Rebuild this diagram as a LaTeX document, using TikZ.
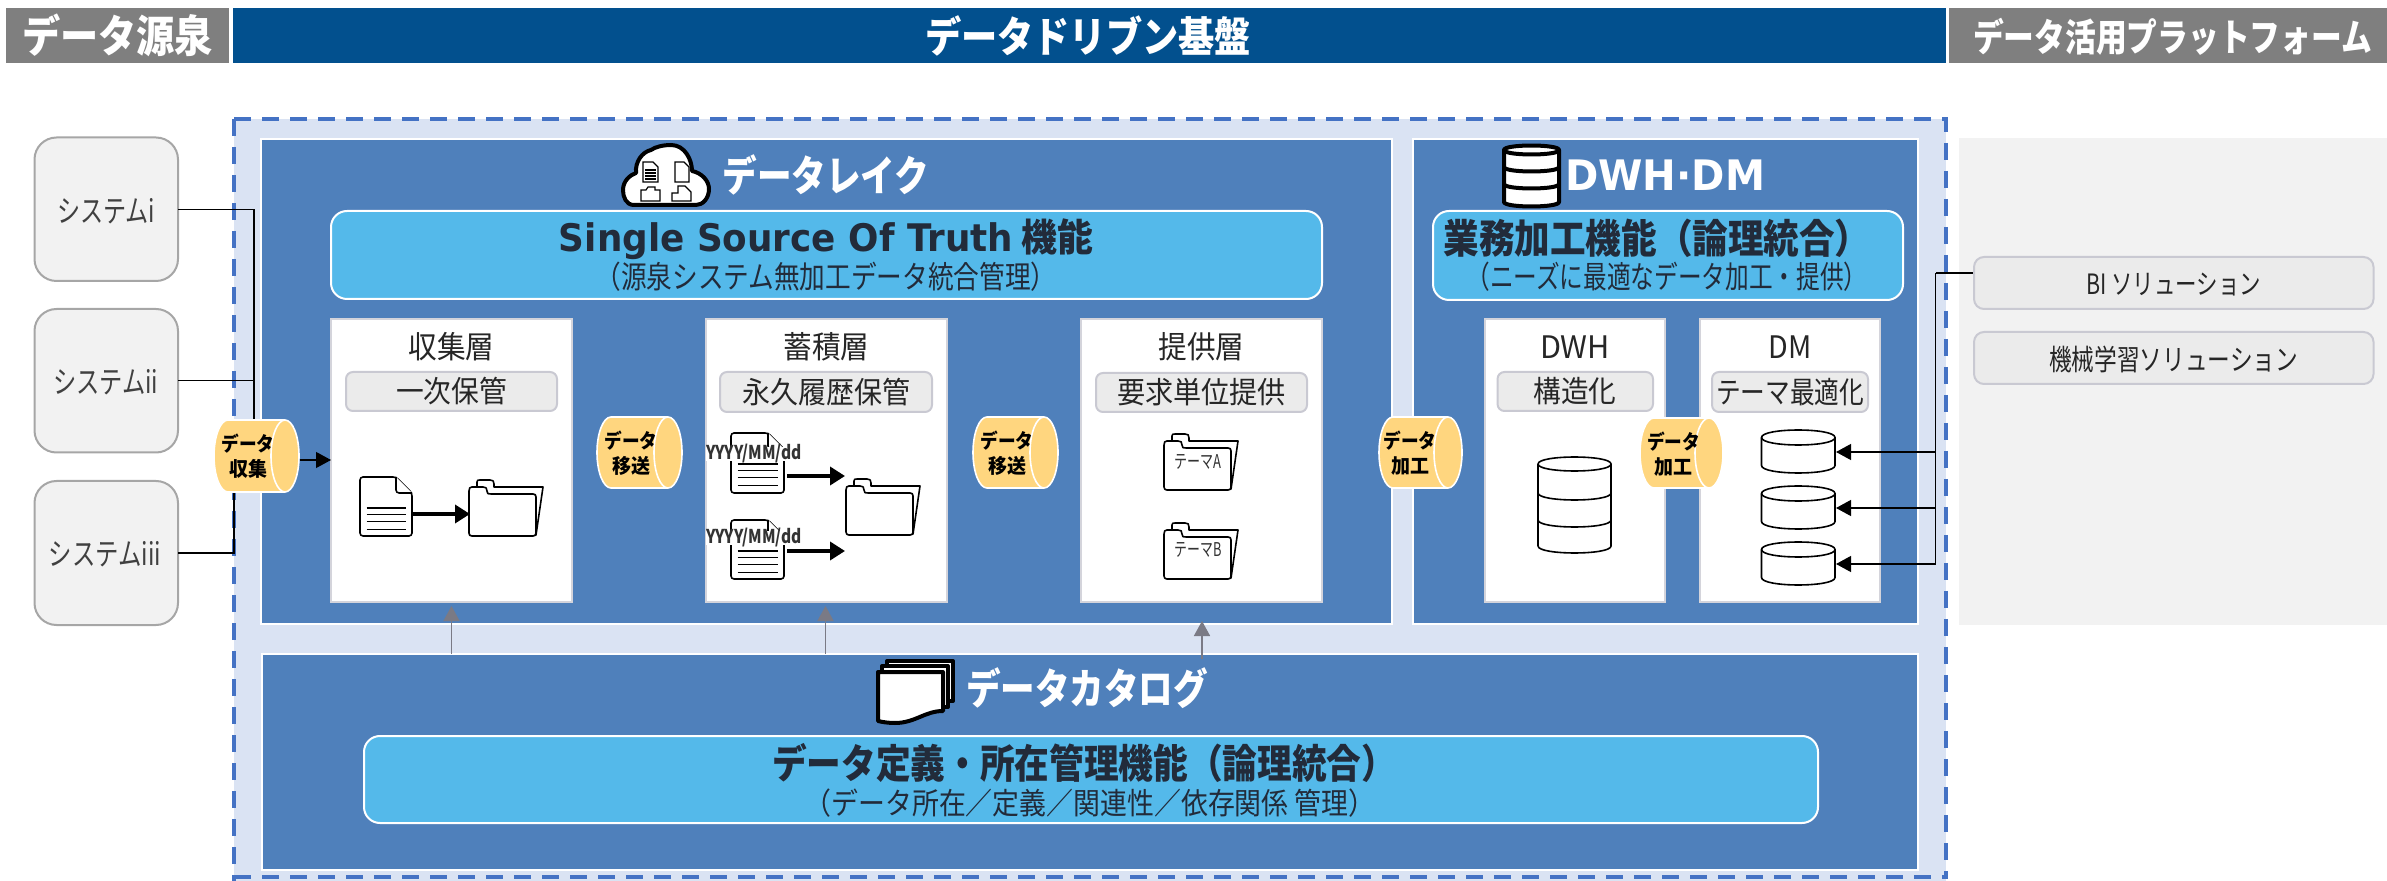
\documentclass[tikz,border=0pt]{standalone}
\usepackage{graphicx}
\usepackage{fontspec}
\setmainfont{Noto Sans CJK JP}
\newfontfamily\latf{DejaVu Sans}
\usetikzlibrary{arrows.meta}
\definecolor{hgray}{HTML}{7F7F7F}
\definecolor{hblue}{HTML}{02508E}
\definecolor{lightbg}{HTML}{DAE3F3}
\definecolor{dashblue}{HTML}{4472C4}
\definecolor{midblue}{HTML}{4F80BB}
\definecolor{banner}{HTML}{54B9EA}
\definecolor{pillfill}{HTML}{EBEBEB}
\definecolor{pillline}{HTML}{C9C9D2}
\definecolor{sysfill}{HTML}{F2F2F2}
\definecolor{sysline}{HTML}{A6A6A6}
\definecolor{navy}{HTML}{222B3A}
\definecolor{cylfill}{HTML}{FFD67F}
\definecolor{arrowgray}{HTML}{7A7A85}
% 1 reference pixel = 0.5pt
\newcommand\bx[6]{% style, name, x0,y0,x1,y1
  \node[#1,minimum width={\fpeval{(#5-(#3))/2}pt},minimum height={\fpeval{(#6-(#4))/2}pt}] (#2) at ({(#3+#5)/2},{(#4+#6)/2}) {};}
\newcommand\lbl[7][black]{% colour, name, x, y, size px, width px, text
  \node[txt,text=#1] (#2) at (#3,#4) {\fontsize{\fpeval{#5/2}}{\fpeval{#5/2}}\selectfont\resizebox{\fpeval{#6/2}pt}{\height}{#7}};}
\newcommand\cyl[8]{% name x0 x1 y0 y1 textcx line1 line2
  \pgfmathsetmacro\ym{(#4+#5)/2}\pgfmathsetmacro\ry{(#5-#4)/2}
  \def\rx{14}\def\kx{7.7}\pgfmathsetmacro\ky{0.5523*\ry}
  \filldraw[cylstyle] ({#2+\rx},#4) -- ({#3-\rx},#4)
    .. controls ({#3-\rx+\kx},#4) and (#3,{\ym-\ky}) .. (#3,\ym)
    .. controls (#3,{\ym+\ky}) and ({#3-\rx+\kx},#5) .. ({#3-\rx},#5)
    -- ({#2+\rx},#5)
    .. controls ({#2+\rx-\kx},#5) and (#2,{\ym+\ky}) .. (#2,\ym)
    .. controls (#2,{\ym-\ky}) and ({#2+\rx-\kx},#4) .. cycle;
  \draw[cylstyle,fill=none] ({#3-\rx},#4)
    .. controls ({#3-\rx-\kx},#4) and ({#3-2*\rx},{\ym-\ky}) .. ({#3-2*\rx},\ym)
    .. controls ({#3-2*\rx},{\ym+\ky}) and ({#3-\rx-\kx},#5) .. ({#3-\rx},#5);
  \bx{anchorbox}{#1}{#2}{#4}{#3}{#5}
  \lbl{#1a}{#6}{\fpeval{#4+23.5}}{20}{53}{\textbf{#7}}
  \lbl{#1b}{#6}{\fpeval{#4+49}}{20}{38}{\textbf{#8}}}
\newcommand\dbshape[7]{% style x0 x1 ytop ybot ry seplist
  \pgfmathsetmacro\cc{1.33*#6}
  \filldraw[#1] (#2,#4) .. controls (#2,{#4-\cc}) and (#3,{#4-\cc}) .. (#3,#4)
    -- (#3,#5) .. controls (#3,{#5+\cc}) and (#2,{#5+\cc}) .. (#2,#5) -- cycle;
  \draw[#1,fill=none] (#2,#4) .. controls (#2,{#4+\cc}) and (#3,{#4+\cc}) .. (#3,#4);
  \foreach \s in {#7} {\draw[#1,fill=none] (#2,\s) .. controls (#2,{\s+\cc}) and (#3,{\s+\cc}) .. (#3,\s);}}
\newcommand\folder[2]{%
  \begin{scope}[shift={(#1,#2)}]
   \filldraw[icon] (9,8) -- (9,3) .. controls (9,1) and (10,1) .. (12,1) -- (22,1) .. controls (25,1) and (26,2) .. (26,5) -- (26,8) -- (75,8) -- (68,56) -- (9,56) -- cycle;
   \filldraw[icon] (1,12) .. controls (1,9) and (2,8) .. (4,8) -- (15,8) .. controls (18,8) and (19,9) .. (19,12) .. controls (19,15) and (20,15) .. (23,15) -- (65,15) .. controls (67,15) and (68,16) .. (68,18) -- (68,54) .. controls (68,56) and (67,57) .. (65,57) -- (4,57) .. controls (2,57) and (1,56) .. (1,54) -- cycle;
  \end{scope}}
\newcommand\docicon[4]{% x0 y0 x1 y1
  \pgfmathsetmacro\ex{#3-16}\pgfmathsetmacro\ey{#2+16}
  \filldraw[icon,rounded corners=1.5] (#1,#2) -- (\ex,#2) -- (#3,\ey) -- (#3,#4) -- (#1,#4) -- cycle;
  \draw[icon,rounded corners=1.5] (\ex,#2) -- (\ex,\ey) -- (#3,\ey);
  \foreach \d in {31,37.5,44.5,52.5} {\draw[icon] ({#1+6.5},{#2+\d}) -- ({#3-6.5},{#2+\d});}}
\tikzset{x=0.5pt,y=-0.5pt,
  base/.style={inner sep=0pt,outer sep=0pt},
  txt/.style={base,align=center},
  anchorbox/.style={base,rectangle},
  head/.style={base,rectangle,fill=#1},
  dashedframe/.style={base,rectangle,fill=lightbg},
  panel/.style={base,rectangle,fill=midblue,draw=white,line width=1pt},
  bannerbox/.style={base,rectangle,rounded corners=8pt,fill=banner,draw=white,line width=1pt},
  layerbox/.style={base,rectangle,fill=white,draw=pillline!80!white,line width=.75pt},
  pill/.style={base,rectangle,rounded corners=3.5pt,fill=pillfill,draw=pillline,line width=1pt},
  sysbox/.style={base,rectangle,rounded corners=11pt,fill=sysfill,draw=sysline,line width=1pt},
  grayarea/.style={base,rectangle,fill=sysfill},
  cylstyle/.style={fill=cylfill,draw=white,line width=.8pt},
  icon/.style={draw=black,fill=white,line width=.8pt,line join=round},
  thickicon/.style={draw=black,fill=white,line width=2pt,line join=round},
  dbstyle/.style={draw=black,fill=white,line width=.8pt},
  conn/.style={draw=black,line width=.6pt},
  connarrow/.style={conn,-{Triangle[length=7.5pt,width=8pt]}},
  iconarrow/.style={draw=black,line width=1.8pt,-{Triangle[length=7.5pt,width=9pt]}},
  catarrow/.style={draw=arrowgray,line width=.8pt,-{Triangle[length=7.5pt,width=8pt]}},
  dashline/.style={draw=dashblue,line width=1.75pt,dash pattern=on 8.5pt off 5.5pt},
}
\begin{document}
\begin{tikzpicture}
\useasboundingbox (0,0) rectangle (2387,881);
% headers
\bx{head=hgray}{hsrc}{6}{8}{229}{63}
\bx{head=hblue}{hbase}{233}{8}{1946}{63}
\bx{head=hgray}{hplat}{1949}{8}{2387}{63}
\lbl[white]{thsrc}{117.5}{35}{44}{191}{\textbf{データ源泉}}
\lbl[white]{thbase}{1088}{36}{42}{326}{\textbf{データドリブン基盤}}
\lbl[white]{thplat}{2172.5}{37}{38}{399}{\textbf{データ活用プラットフォーム}}
% frames
\bx{dashedframe}{outer}{234}{119}{1946}{881}
\bx{grayarea}{right}{1959}{138}{2387}{625}
\draw[dashline] (outer.north west) -- (outer.north east) -- ([yshift=1pt]outer.south east);
\draw[dashline] (outer.north west) -- (outer.south west);
\draw[dashline] ([yshift=2pt]outer.south west) -- ([yshift=2pt]outer.south east);
\bx{panel}{lake}{261}{139}{1392}{624}
\bx{panel}{dwh}{1413}{139}{1918}{624}
\bx{panel}{catalog}{262}{654}{1918}{870}
% source systems
\bx{sysbox}{sysA}{34.5}{137.5}{178}{281}
\bx{sysbox}{sysB}{34.5}{309}{178}{452.5}
\bx{sysbox}{sysC}{34.5}{481}{178}{625}
\lbl[black!75]{tsysA}{106}{211}{31}{98}{システムi}
\lbl[black!75]{tsysB}{105.5}{382}{31}{105}{システムii}
\lbl[black!75]{tsysC}{105}{554}{31}{112}{システムiii}
% banners
\bx{bannerbox}{ban1}{331}{211}{1322}{299}
\bx{bannerbox}{ban2}{1433}{211}{1903}{300}
\bx{bannerbox}{ban3}{364}{736}{1818}{823}
\lbl[navy]{tban1a}{826}{239}{38}{534}{\textbf{{\latf Single Source Of Truth} 機能}}
\lbl[navy]{tban1b}{826}{277}{31}{461}{（源泉システム無加工データ統合管理）}
\lbl[navy]{tban2a}{1657}{238}{40}{427}{\textbf{業務加工機能（論理統合）}}
\lbl[navy]{tban2b}{1667}{277}{31}{401}{（ニーズに最適なデータ加工・提供）}
\lbl[navy]{tban3a}{1084}{763}{40}{624}{\textbf{データ定義・所在管理機能（論理統合）}}
\lbl[navy]{tban3b}{1090}{803}{30}{571}{（データ所在／定義／関連性／依存関係 管理）}
% panel titles
\lbl[white]{tlake}{826}{175}{42}{207}{\textbf{データレイク}}
\node[txt,text=white] (tdwh) at (1665,175) {\fontsize{21}{21}\selectfont\resizebox{100pt}{\height}{\latf\bfseries DWH·DM}};
\lbl[white]{tcat}{1087}{688}{42}{242}{\textbf{データカタログ}}
% layer boxes
\bx{layerbox}{coll}{331}{319}{572}{602}
\bx{layerbox}{stor}{706}{319}{947}{602}
\bx{layerbox}{prov}{1081}{319}{1322}{602}
\bx{layerbox}{bdwh}{1485}{319}{1665}{602}
\bx{layerbox}{bdm}{1700}{319}{1880}{602}
\lbl[black!85]{tcoll}{451.5}{347}{31}{86}{収集層}
\lbl[black!85]{tstor}{826.5}{347}{31}{86}{蓄積層}
\lbl[black!85]{tprov}{1201.5}{347}{31}{86}{提供層}
\lbl[black!85]{tdwhb}{1575}{347}{31}{70}{DWH}
\lbl[black!85]{tdmb}{1790}{347}{31}{43}{DM}
% pills
\bx{pill}{pcoll}{346}{372}{557}{411}
\bx{pill}{pstor}{720}{372}{932}{412}
\bx{pill}{pprov}{1096}{373}{1307}{412}
\bx{pill}{pdwh}{1497.5}{372}{1653}{411}
\bx{pill}{pdm}{1712}{372}{1868}{412}
\lbl[black!85]{tpcoll}{451.5}{391.5}{30}{111}{一次保管}
\lbl[black!85]{tpstor}{826}{392}{30}{168}{永久履歴保管}
\lbl[black!85]{tpprov}{1201.5}{392.5}{30}{169}{要求単位提供}
\lbl[black!85]{tpdwh}{1575}{391.5}{30}{83}{構造化}
\lbl[black!85]{tpdm}{1790}{392}{30}{148}{テーマ最適化}
% collection layer icons
\docicon{360}{477}{412}{536}
\folder{468}{479}
\coordinate (collA) at (412,514);
\coordinate (collB) at (470,514);
\draw[iconarrow] (collA) -- (collB);
% storage layer icons
\docicon{731}{433}{784}{493}
\docicon{731}{520}{784}{579}
\folder{845}{478}
\fill[white] (706,447) rectangle (802,461);
\fill[white] (706,531) rectangle (802,545);
\lbl[black!80]{ty1}{754}{454}{19}{96}{\textbf{YYYY/MM/dd}}
\lbl[black!80]{ty2}{754}{538}{19}{96}{\textbf{YYYY/MM/dd}}
\coordinate (stA) at (787,476);\coordinate (stB) at (845,476);
\coordinate (stC) at (787,551);\coordinate (stD) at (845,551);
\draw[iconarrow] (stA) -- (stB);
\draw[iconarrow] (stC) -- (stD);
% provision layer icons
\folder{1163}{433}
\folder{1163}{522}
\lbl[black!80]{tfa}{1198}{462}{19}{47}{テーマA}
\lbl[black!80]{tfb}{1198}{550}{19}{47}{テーマB}
% databases
\dbshape{dbstyle}{1538}{1611}{464}{546}{7}{493,520}
\dbshape{dbstyle}{1761.5}{1835}{437.5}{465.5}{7.5}{}
\dbshape{dbstyle}{1761.5}{1835}{493.5}{521.5}{7.5}{}
\dbshape{dbstyle}{1761.5}{1835}{549.5}{577.5}{7.5}{}
\coordinate (dmA) at (1836,452);\coordinate (dmB) at (1836,508);\coordinate (dmC) at (1836,564);
% header icons: cloud
\filldraw[thickicon] (634,205) .. controls (626,205) and (623,197) .. (623,190)
  .. controls (623,181) and (630,175) .. (636,173)
  .. controls (635,162) and (642,152) .. (651,150)
  .. controls (655,147) and (663,145) .. (671,145)
  .. controls (685,145) and (692,160) .. (692,171)
  .. controls (702,173) and (709,181) .. (709,189)
  .. controls (709,198) and (703,205) .. (696,205) -- cycle;
\begin{scope}[line width=.6pt]
 \draw (643,162) -- (653,162) -- (658,167) -- (658,182) -- (643,182) -- cycle;
 \foreach \d in {170,173,176,179} {\draw (645,\d) -- (656,\d);}
 \draw (675,162) -- (684,162) -- (689,167) -- (689,182) -- (675,182) -- cycle;
 \draw (641,190) -- (646,190) -- (648,187) -- (655,187) -- (655,190) -- (660,190) -- (660,201) -- (641,201) -- cycle;
 \draw (672,193) -- (678,193) -- (678,186) -- (685,186) -- (691,192) -- (691,201) -- (672,201) -- cycle;
\end{scope}
% header icon: database
\dbshape{thickicon}{1504}{1559}{150}{202}{4.5}{167,184}
% header icon: catalog sheets
\filldraw[thickicon] (887,661) -- (953,661) -- (953,701) -- (887,701) -- cycle;
\filldraw[thickicon] (882,666) -- (948,666) -- (948,707) -- (882,707) -- cycle;
\filldraw[thickicon] (878,672) -- (943,672) -- (943,711) .. controls (925,711) and (915,723) .. (895,723) .. controls (888,723) and (882,722) .. (878,721) -- cycle;
% connectors
\coordinate (busA) at (254,421);
\coordinate (busB) at (234,491);
\draw[conn] (sysA.east) -| (busA);
\draw[conn] (sysB.east) -| (busA);
\draw[conn] (sysC.east) -| (busB);
\cyl{cA}{214}{299}{420}{492}{248}{データ}{収集}
\cyl{cB}{597}{682}{417}{488}{631}{データ}{移送}
\cyl{cC}{973}{1058}{417}{488}{1007}{データ}{移送}
\cyl{cD}{1379}{1462}{417}{488}{1410}{データ}{加工}
\cyl{cE}{1640}{1723}{418}{488}{1673.5}{データ}{加工}
\coordinate (collIn) at (coll.west |- 0,460);
\coordinate (cAout) at (300,460);
\draw[connarrow] (cAout) -- (collIn);
% output connectors
\coordinate (biout) at (1974,273);
\coordinate (bend) at (1935.5,273);
\coordinate (bendA) at (1935.5,452);
\coordinate (bendB) at (1935.5,508);
\coordinate (bendC) at (1935.5,564);
\draw[conn] (bend) -- (bendC);
\draw[conn,line width=1pt] (biout) -- (bend);
\draw[connarrow] (bendC) -- (dmC);
\draw[connarrow] (bendA) -- (dmA);
\draw[connarrow] (bendB) -- (dmB);
\bx{pill,rounded corners=5pt}{bi}{1974}{257}{2373.5}{309}
\bx{pill,rounded corners=5pt}{ml}{1974}{332}{2373.5}{384}
\lbl[black!85]{tbi}{2173.5}{285}{28}{175}{BI ソリューション}
\lbl[black!85]{tml}{2173.5}{359}{29}{249}{機械学習ソリューション}
% catalog arrows
\coordinate (a1s) at (451.5,654);\coordinate (a1e) at (451.5,606);
\coordinate (a2s) at (825.5,654);\coordinate (a2e) at (825.5,606);
\coordinate (a3s) at (1202,659);\coordinate (a3e) at (1202,621);
\draw[catarrow] (a1s) -- (a1e);
\draw[catarrow] (a2s) -- (a2e);
\draw[catarrow] (a3s) -- (a3e);
\end{tikzpicture}
\end{document}
